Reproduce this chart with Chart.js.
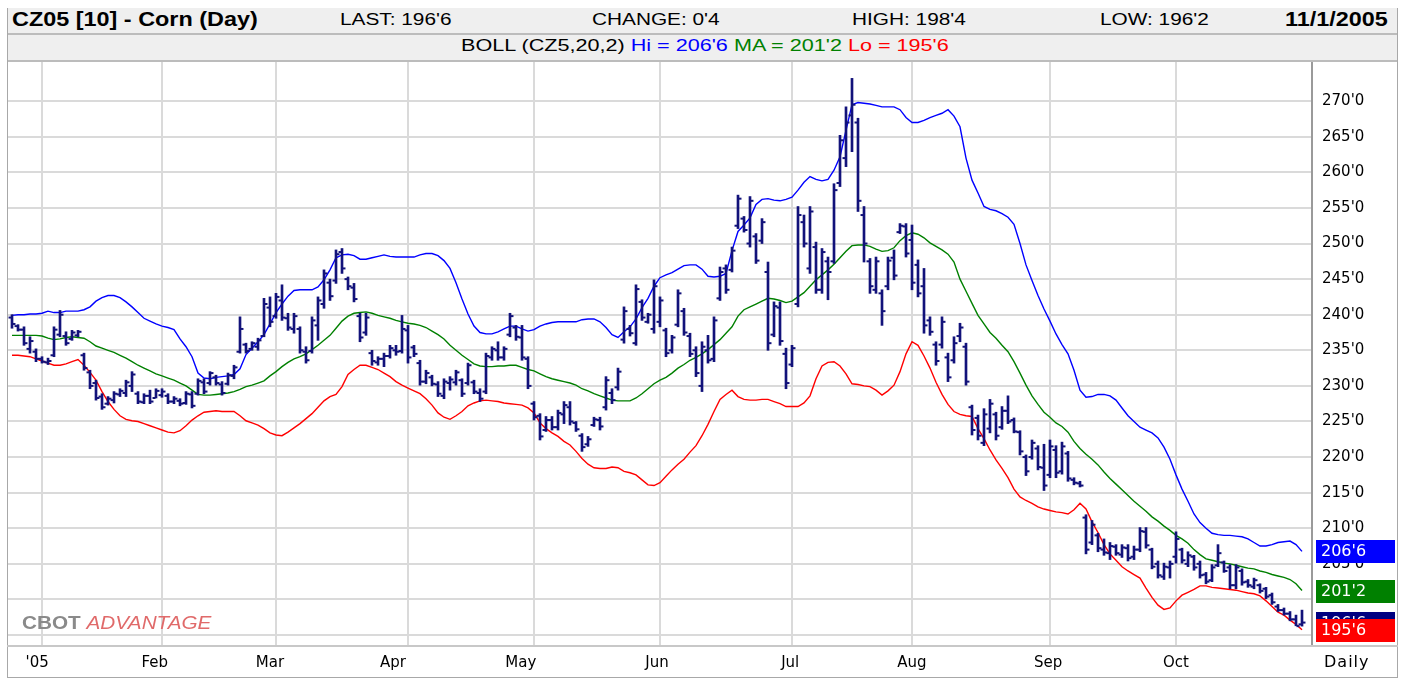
<!DOCTYPE html>
<html>
<head>
<meta charset="utf-8">
<title>CZ05 Corn (Day)</title>
<script src="https://cdn.jsdelivr.net/npm/chart.js@4.4.1/dist/chart.umd.min.js"></script>
<style>
  body { margin: 0; background: #fff; font-family: "Liberation Sans", Arial, sans-serif; }
  #wrap { position: relative; width: 1409px; height: 679px; overflow: hidden; }
  .row { position: absolute; left: 7px; width: 1391px; background: #efefef; }
  .sep { position: absolute; background: #bcbcbc; }
  .txt { position: absolute; white-space: nowrap; font-size: 16px; color: #000; transform-origin: left center; transform: scaleX(1.3); }
  .bold { font-weight: bold; font-size: 20px; transform: scaleX(1.17); }
  #chartBox { position: absolute; left: 8px; top: 62px; }
  #logo { position: absolute; left: 22px; top: 613px; font-size: 18px; white-space: nowrap; transform-origin: left center; transform: scaleX(1.15); }
  #logo .c { color: #8a8a8a; font-weight: bold; }
  #logo .a { color: #e06a6a; font-style: italic; }
  #daily { position: absolute; left: 1324px; top: 652px; font-family: "DejaVu Sans", sans-serif; font-size: 16px; letter-spacing: 1px; }
</style>
</head>
<body>
<div id="wrap">
  <div class="row" style="top:8px;height:25px;"></div>
  <div class="sep" style="left:7px;top:33px;width:1391px;height:2px;"></div>
  <div class="row" style="top:35px;height:25px;"></div>
  <div class="sep" style="left:7px;top:60px;width:1391px;height:2px;"></div>

  <div class="txt bold" style="left:12px;top:8px;">CZ05 [10] - Corn (Day)</div>
  <div class="txt" style="left:340px;top:11px;">LAST: 196'6</div>
  <div class="txt" style="left:592px;top:11px;">CHANGE: 0'4</div>
  <div class="txt" style="left:852px;top:11px;">HIGH: 198'4</div>
  <div class="txt" style="left:1100px;top:11px;">LOW: 196'2</div>
  <div class="txt bold" style="left:1285px;top:8px;">11/1/2005</div>
  <div class="txt" style="left:461px;top:37px;transform:scaleX(1.35);">BOLL (CZ5,20,2) <span style="color:#0000ff">Hi = 206'6</span> <span style="color:#008000">MA = 201'2</span> <span style="color:#ff0000">Lo = 195'6</span></div>

  <div id="chartBox"><canvas id="chart" width="1390" height="616"></canvas></div>

  <div class="sep" style="left:7px;top:8px;width:1px;height:670px;background:#a8a8a8;"></div>
  <div class="sep" style="left:1397px;top:8px;width:1px;height:670px;background:#a8a8a8;"></div>
  <div class="sep" style="left:7px;top:645px;width:1391px;height:2px;background:#c8c8c8;"></div>
  <div class="sep" style="left:7px;top:677px;width:1391px;height:1px;background:#a8a8a8;"></div>

  <div id="logo"><span class="c">CBOT</span> <span class="a">ADVANTAGE</span></div>
  <div id="daily">Daily</div>
</div>

<script>
// bar index 0 = 27 Dec 2004, one bar per trading day up to 1 Nov 2005
const monthStarts = [5, 25, 44, 66, 87, 108, 130, 150, 173, 194];
const monthLabels = ["'05", 'Feb', 'Mar', 'Apr', 'May', 'Jun', 'Jul', 'Aug', 'Sep', 'Oct'];
const monthLabelPos = [4.2, 23.8, 43, 63.5, 84.8, 107.5, 129.7, 150, 172.7, 194];
const priceTicks = [195, 200, 205, 210, 215, 220, 225, 230, 235, 240, 245, 250, 255, 260, 265, 270];

const highs = [
  240.0, 238.6, 238.3, 236.9, 235.2,
  // Jan
  234.1, 233.9, 238.3, 240.6, 237.6, 237.8, 237.8, 234.6, 232.2, 230.8, 228.9, 228.5, 229.2, 229.6, 230.8, 232.0, 229.2, 228.9, 229.4, 229.6,
  // Feb
  229.6, 228.9, 228.5, 228.2, 229.2, 229.2, 231.0, 231.0, 232.0, 231.5, 230.6, 231.8, 232.9, 239.7, 236.0, 236.2, 236.7, 242.3, 242.5,
  // Mar
  243.0, 244.2, 240.2, 240.2, 238.3, 235.5, 239.7, 242.5, 246.3, 245.0, 249.1, 249.3, 245.3, 244.4, 240.2, 240.2, 235.0, 234.1, 234.6, 235.7, 235.7, 239.9,
  // Apr
  238.5, 235.7, 233.6, 232.2, 231.5, 230.6, 231.0, 231.3, 232.2, 231.0, 233.2, 230.8, 229.6, 234.6, 235.5, 236.2, 235.5, 240.2, 238.5, 238.5, 234.1,
  // May
  227.8, 226.1, 225.7, 225.7, 226.6, 227.8, 227.8, 225.0, 223.3, 222.9, 225.6, 225.6, 231.3, 229.6, 232.5, 241.1, 238.5, 244.2, 242.1, 240.2, 244.9,
  // Jun
  242.5, 238.1, 237.1, 243.5, 240.9, 237.4, 235.5, 236.2, 237.1, 239.7, 246.7, 247.0, 249.5, 256.8, 253.8, 256.6, 251.4, 253.5, 247.4, 241.8, 241.8, 235.3,
  // Jul
  235.7, 255.2, 254.0, 255.2, 250.2, 249.3, 248.1, 258.4, 265.2, 269.2, 273.2, 267.6, 255.2, 247.9, 248.1, 243.5, 248.1, 249.1, 252.8, 252.8,
  // Aug
  252.6, 247.7, 246.5, 239.7, 236.2, 239.7, 234.6, 236.9, 238.8, 236.0, 227.3, 225.9, 226.8, 228.1, 226.3, 227.1, 228.6, 225.5, 223.7, 220.3, 222.4, 221.6, 221.8,
  // Sep
  222.4, 221.6, 222.1, 220.8, 217.1, 216.6, 211.9, 211.1, 209.3, 208.5, 208.0, 207.7, 207.7, 207.7, 207.5, 210.1, 210.1, 207.2, 205.4, 205.1, 205.4,
  // Oct
  209.5, 207.2, 206.7, 206.2, 205.4, 203.8, 204.9, 207.7, 205.4, 204.9, 204.9, 204.3, 202.8, 203.0, 202.2, 201.7, 200.9, 199.3, 198.8, 198.3, 197.8,
  // Nov 1
  198.5
];
const lows = [
  238.1, 237.7, 235.7, 234.6, 233.4,
  233.2, 233.0, 234.1, 236.9, 235.7, 236.4, 236.9, 232.2, 229.6, 228.0, 226.7, 227.3, 227.6, 228.5, 228.5, 229.2, 227.5, 227.5, 227.5, 228.3,
  228.4, 227.5, 227.5, 227.2, 227.4, 226.9, 228.7, 228.9, 230.1, 230.1, 228.7, 230.1, 231.0, 234.6, 234.6, 235.0, 235.0, 236.9, 238.3,
  239.5, 239.2, 237.8, 237.4, 234.6, 233.2, 234.6, 236.4, 240.9, 242.0, 244.4, 245.8, 243.5, 241.8, 236.2, 237.1, 232.9, 232.9, 232.7, 233.9, 234.3, 234.6,
  233.2, 234.1, 230.1, 230.3, 230.0, 228.5, 228.2, 229.4, 230.1, 228.5, 230.1, 228.9, 227.8, 228.9, 233.6, 233.6, 233.6, 236.9, 236.4, 233.6, 229.6,
  225.2, 222.4, 223.6, 223.8, 223.8, 224.7, 224.5, 223.6, 220.8, 221.5, 224.3, 223.8, 226.6, 227.5, 229.4, 236.0, 237.0, 235.7, 239.2, 238.8, 237.4,
  238.3, 234.1, 234.6, 238.3, 237.1, 234.1, 231.3, 229.2, 233.2, 233.4, 242.0, 243.0, 246.0, 252.1, 251.6, 249.5, 247.2, 250.0, 235.0, 236.9, 235.7, 229.6,
  232.7, 241.1, 249.5, 245.8, 243.0, 243.0, 242.1, 247.2, 258.0, 260.8, 262.9, 254.5, 247.4, 243.0, 243.0, 238.5, 243.5, 244.9, 251.4, 248.1,
  243.5, 242.5, 237.4, 237.1, 232.9, 235.3, 230.6, 233.2, 236.2, 230.1, 223.1, 222.4, 221.6, 223.4, 222.4, 223.9, 224.7, 223.4, 220.3, 217.4, 219.7, 218.2, 215.3,
  217.1, 217.1, 217.6, 216.6, 216.1, 215.8, 206.4, 207.7, 206.7, 206.2, 205.6, 206.2, 205.9, 205.4, 205.6, 206.7, 207.2, 204.3, 203.0, 202.8, 203.0,
  205.1, 205.1, 204.6, 204.1, 203.0, 202.2, 202.5, 204.6, 203.8, 201.5, 201.5, 202.0, 201.7, 201.5, 200.9, 200.1, 199.3, 198.3, 197.8, 197.0, 196.3,
  196.25
];
const opens = [
  239.6, 238.4, 237.9, 235.2, 234.8,
  233.8, 233.3, 234.3, 237.2, 237.0, 236.6, 237.1, 234.3, 231.9, 230.4, 228.5, 227.5, 228.0, 228.8, 229.0, 230.0, 228.9, 227.7, 228.6, 228.3,
  228.7, 228.6, 227.8, 227.9, 227.6, 228.8, 228.9, 230.5, 230.4, 231.2, 230.2, 230.3, 231.4, 234.8, 235.8, 235.2, 235.5, 237.0, 241.0,
  239.8, 242.0, 239.5, 238.0, 238.0, 234.8, 234.9, 238.5, 241.5, 244.5, 244.8, 248.8, 245.0, 243.8, 239.8, 237.5, 234.6, 233.3, 233.8, 234.2, 235.0, 234.9,
  237.8, 235.4, 233.2, 230.6, 231.2, 230.2, 228.6, 230.4, 230.5, 230.8, 230.4, 230.5, 229.0, 229.2, 234.0, 235.0, 234.0, 237.2, 238.2, 236.8, 233.8,
  227.5, 225.8, 223.8, 225.2, 224.2, 226.0, 227.0, 224.8, 223.0, 221.8, 224.5, 225.2, 227.0, 229.0, 229.8, 236.5, 238.0, 236.0, 241.8, 239.0, 238.0,
  239.0, 237.8, 235.0, 238.6, 240.5, 237.0, 235.0, 230.0, 235.0, 233.8, 242.3, 246.5, 246.3, 252.5, 253.5, 250.0, 251.0, 250.4, 246.0, 237.2, 241.0, 234.5,
  233.0, 241.5, 253.0, 246.5, 249.5, 243.5, 247.5, 247.5, 258.5, 262.0, 268.0, 267.0, 254.0, 247.5, 243.5, 243.0, 244.0, 248.0, 251.6, 252.4,
  250.5, 247.0, 244.0, 239.2, 235.8, 235.8, 234.0, 233.6, 237.0, 235.5, 227.0, 225.5, 222.0, 224.0, 226.0, 224.2, 226.5, 225.2, 223.5, 220.0, 220.0, 221.2, 218.5,
  217.5, 221.0, 218.0, 220.5, 216.8, 216.3, 211.5, 208.0, 209.0, 207.0, 206.5, 207.4, 206.3, 207.2, 206.0, 207.0, 209.5, 207.0, 205.0, 203.2, 204.5,
  206.0, 207.0, 205.0, 206.0, 205.0, 203.5, 202.7, 204.8, 205.2, 204.5, 202.0, 204.0, 202.5, 201.8, 202.0, 201.5, 200.6, 199.0, 198.5, 198.0, 197.2,
  196.5
];
const closes = [
  238.7, 237.9, 236.0, 236.3, 233.8,
  233.4, 233.5, 237.9, 240.0, 236.0, 237.5, 237.6, 232.5, 230.0, 228.3, 227.0, 228.2, 228.9, 229.3, 230.5, 231.6, 227.8, 228.6, 227.8, 229.3,
  229.2, 227.8, 228.2, 227.5, 228.9, 227.2, 230.7, 229.2, 231.8, 230.4, 229.0, 231.5, 232.6, 238.0, 234.9, 236.0, 236.4, 241.5, 239.0,
  242.5, 239.6, 238.2, 239.8, 235.0, 233.6, 239.2, 242.0, 245.8, 242.6, 248.5, 246.5, 244.0, 242.2, 236.8, 239.6, 233.5, 233.8, 234.2, 235.3, 234.8, 238.0,
  234.0, 234.5, 230.6, 231.8, 230.3, 228.9, 230.6, 230.9, 231.9, 228.9, 232.9, 229.2, 228.2, 234.2, 235.2, 234.0, 235.2, 239.8, 236.9, 234.0, 230.0,
  225.6, 222.9, 225.2, 224.2, 226.2, 227.3, 225.0, 223.9, 221.4, 222.5, 225.3, 224.3, 230.8, 228.0, 232.0, 240.5, 237.4, 243.6, 239.6, 240.0, 244.0,
  242.0, 234.6, 236.8, 243.0, 237.5, 234.5, 231.8, 235.5, 233.6, 239.2, 246.0, 243.5, 249.0, 256.3, 251.9, 256.0, 247.6, 253.0, 236.0, 241.2, 236.3, 230.4,
  235.3, 254.0, 250.0, 254.5, 243.5, 248.8, 246.0, 257.5, 264.5, 267.0, 269.5, 256.0, 250.0, 244.0, 247.5, 240.5, 247.6, 245.5, 252.5, 248.6,
  244.5, 243.0, 238.5, 237.6, 233.5, 239.0, 231.2, 236.0, 238.2, 230.6, 223.8, 223.0, 226.0, 227.5, 223.0, 226.5, 225.0, 223.6, 220.8, 218.0, 222.0, 218.6, 216.0,
  221.5, 217.8, 221.5, 217.0, 216.4, 216.0, 207.0, 210.5, 207.2, 206.6, 207.5, 206.5, 207.3, 205.8, 207.0, 209.6, 207.6, 204.6, 203.4, 204.6, 205.0,
  208.5, 205.5, 206.2, 204.5, 203.4, 202.5, 204.5, 206.5, 204.0, 202.0, 204.5, 202.4, 202.0, 202.7, 201.2, 200.4, 199.6, 198.5, 198.0, 197.2, 196.25,
  196.75
];

// Bollinger (20,2) lines
const upper = [
  239.9, 240.0, 240.0, 240.1, 240.1,
  240.2, 240.5, 240.3, 240.3, 240.5, 240.5, 240.5, 240.7, 241.1, 241.9, 242.4, 242.7, 242.7, 242.4, 241.8, 241.1, 240.3, 239.5, 239.1, 238.7,
  238.4, 238.2, 237.9, 236.6, 235.5, 234.1, 231.8, 231.1, 231.0, 231.2, 231.3, 231.4, 231.6, 232.4, 234.4, 235.3, 236.2, 237.2, 238.7,
  240.3, 241.5, 242.6, 243.4, 243.5, 243.5, 243.5, 243.9, 244.9, 246.3, 248.0, 248.4, 248.5, 248.3, 247.8, 247.8, 248.0, 248.2, 248.4, 248.2, 248.1, 248.1,
  248.1, 248.1, 248.4, 248.6, 248.6, 248.3, 247.6, 246.5, 244.5, 242.2, 240.1, 238.4, 237.5, 237.3, 237.3, 237.6, 238.0, 238.4, 238.4, 238.0, 237.7,
  237.9, 238.4, 238.7, 238.9, 239.0, 239.0, 239.0, 239.0, 239.3, 239.4, 239.4, 239.0, 238.2, 237.2, 236.8, 237.6, 238.3, 239.4, 241.0, 242.3, 244.0,
  245.2, 245.6, 245.9, 246.4, 246.9, 247.0, 247.0, 246.4, 245.4, 245.3, 245.4, 245.8, 249.0, 251.7, 252.6, 253.6, 255.5, 256.2, 256.3, 256.1, 256.0, 256.2,
  256.5, 257.5, 258.6, 259.4, 259.0, 258.8, 259.0, 260.3, 262.2, 265.9, 269.5, 269.8, 269.7, 269.6, 269.4, 269.2, 269.2, 269.2, 268.8, 267.7,
  267.0, 267.0, 267.3, 267.7, 268.0, 268.3, 268.8, 267.9, 266.4, 262.0, 258.9, 257.1, 255.2, 254.8, 254.6, 254.2, 253.7, 252.7, 250.0, 247.0, 244.8, 242.7, 240.8,
  239.1, 237.3, 235.8, 234.5, 232.2, 229.4, 228.4, 228.5, 228.8, 228.8, 228.6, 228.0, 226.9, 225.8, 225.0, 224.2, 223.8, 223.4, 222.7, 221.4, 219.7,
  217.5, 215.5, 213.8, 212.0, 210.8, 210.0, 209.3, 209.1, 209.0, 209.0, 208.9, 208.8, 208.5, 208.0, 207.5, 207.5, 207.7, 208.0, 208.1, 208.2, 207.7,
  206.75
];
const middle = [
  237.1, 237.1, 237.1, 237.1, 237.1,
  237.0, 236.7, 236.5, 236.6, 236.8, 236.9, 236.8, 236.7, 236.2, 235.6, 235.3, 235.0, 234.7, 234.3, 233.9, 233.4, 232.9, 232.5, 232.1, 231.7,
  231.4, 231.1, 230.8, 230.4, 230.0, 229.4, 228.8, 228.7, 228.7, 228.8, 228.9, 229.0, 229.2, 229.5, 229.9, 230.1, 230.4, 230.7, 231.4,
  232.0, 232.7, 233.3, 233.8, 234.1, 234.5, 235.1, 235.7, 236.4, 237.1, 238.1, 239.1, 239.8, 240.2, 240.3, 240.4, 240.2, 239.9, 239.7, 239.5, 239.2, 239.0,
  238.8, 238.7, 238.5, 238.2, 237.7, 237.2, 236.6, 235.7, 235.0, 234.3, 233.7, 233.1, 232.8, 232.7, 232.7, 232.8, 232.8, 232.9, 232.9, 232.6, 232.3,
  232.1, 231.7, 231.3, 231.0, 230.8, 230.6, 230.4, 230.1, 229.6, 229.3, 228.9, 228.6, 228.3, 228.0, 227.9, 227.9, 227.9, 228.3, 228.9, 229.6, 230.3,
  230.8, 231.2, 231.8, 232.5, 233.0, 233.6, 234.0, 234.5, 235.1, 235.8, 236.5, 237.4, 238.3, 239.8, 240.7, 241.1, 241.5, 241.9, 242.3, 242.2, 242.0, 241.7,
  241.9, 242.5, 243.1, 244.0, 244.9, 245.6, 246.3, 247.1, 248.0, 248.9, 249.7, 249.8, 249.8, 249.6, 249.2, 248.9, 249.0, 249.4, 250.4, 251.1,
  251.5, 251.3, 250.8, 250.1, 249.6, 249.1, 248.5, 247.4, 245.0, 243.3, 241.6, 239.9, 238.7, 237.5, 236.7, 235.7, 234.8, 233.4, 231.8, 230.1, 228.6, 227.4, 226.3,
  225.6, 224.8, 224.3, 223.5, 222.2, 221.2, 220.4, 219.7, 218.9, 217.9, 217.0, 216.2, 215.4, 214.6, 213.8, 213.1, 212.4, 211.6, 211.0, 210.3, 209.7,
  209.0, 208.5, 207.9, 207.0, 206.3, 205.7, 205.5, 205.3, 205.1, 205.0, 204.8, 204.6, 204.4, 204.3, 204.0, 203.8, 203.5, 203.3, 203.1, 202.8, 202.2,
  201.25
];
const lower = [
  234.3, 234.3, 234.2, 234.1, 233.8,
  233.5, 233.2, 232.9, 232.9, 233.1, 233.4, 233.7, 232.9, 231.9, 230.8, 229.2, 227.8, 226.7, 225.8, 225.3, 225.1, 225.0, 224.7, 224.4, 224.1,
  223.8, 223.5, 223.4, 223.7, 224.4, 225.2, 225.8, 226.3, 226.4, 226.5, 226.4, 226.4, 226.4, 225.8, 225.1, 224.8, 224.5, 224.0, 223.4,
  223.1, 223.0, 223.5, 224.1, 224.7, 225.4, 226.1, 227.0, 227.9, 228.5, 228.8, 229.9, 231.6, 232.3, 232.9, 232.9, 232.6, 232.3, 231.8, 231.3, 230.6, 230.1,
  229.7, 229.3, 228.9, 228.2, 227.3, 226.2, 225.6, 225.3, 225.8, 226.4, 227.2, 227.6, 227.9, 228.0, 227.9, 227.8, 227.6, 227.5, 227.4, 227.3, 226.9,
  226.2, 224.8, 224.0, 223.4, 222.9, 222.2, 221.7, 220.8, 219.8, 219.0, 218.5, 218.4, 218.4, 218.6, 218.5, 218.0, 217.8, 217.5, 216.8, 216.1, 216.0,
  216.4, 217.3, 218.2, 219.0, 219.7, 220.7, 221.6, 223.0, 224.6, 226.4, 228.1, 228.8, 229.4, 228.5, 228.1, 228.0, 228.0, 228.1, 228.1, 227.8, 227.5, 227.1,
  227.1, 227.1, 227.6, 228.6, 231.0, 232.8, 233.3, 233.4, 232.8, 231.7, 230.3, 230.2, 230.0, 229.9, 229.4, 228.7, 229.3, 230.1, 232.0, 234.5,
  236.2, 235.7, 234.2, 232.5, 230.5, 228.8, 227.4, 226.4, 226.0, 225.8, 225.7, 224.0, 222.6, 221.0, 219.6, 218.4, 217.1, 215.5, 214.4, 213.9, 213.5, 213.0, 212.7,
  212.5, 212.3, 212.2, 212.0, 212.6, 213.5, 212.7, 210.9, 209.4, 207.7, 206.4, 205.5, 204.6, 204.0, 203.5, 203.0, 201.6, 200.3, 199.2, 198.6, 198.8,
  199.8, 200.6, 201.0, 201.4, 201.9, 201.9, 201.7, 201.6, 201.5, 201.4, 201.3, 201.1, 200.9, 200.8, 200.5, 199.8, 199.0, 198.2, 197.8, 197.1, 196.5,
  195.75
];

const NAVY = '#12127a';
const GRID = '#dadada';
const TICK_FONT = { family: '"DejaVu Sans", sans-serif', size: 15 };

function eighths(v) {
    const whole = Math.floor(v);
    return whole + "'" + Math.round((v - whole) * 8);
}

function pts(values, shift) {
    return values.map((v, i) => ({ x: i + shift, y: v }));
}

// keep the plot area flush with the canvas edges
function noPadding(axis) {
    axis.paddingTop = 0;
    axis.paddingBottom = 0;
    axis.paddingLeft = 0;
    axis.paddingRight = 0;
}

// last-value boxes on the price axis
const valueBoxes = {
    id: 'valueBoxes',
    afterDraw(chart) {
        const { ctx, chartArea, scales } = chart;
        const n = closes.length - 1;
        const boxes = [
            [closes[n], '#000080'],
            [upper[n], '#0000ff'],
            [middle[n], '#008000'],
            [lower[n], '#ff0000']
        ];
        ctx.save();
        ctx.font = '16px "DejaVu Sans", sans-serif';
        ctx.textBaseline = 'middle';
        boxes.forEach(([v, color]) => {
            const py = Math.round(scales.y.getPixelForValue(v));
            ctx.fillStyle = color;
            ctx.fillRect(chartArea.right + 4, py - 11, 79, 23);
            ctx.fillStyle = '#ffffff';
            ctx.fillText(eighths(v), chartArea.right + 9, py + 1);
        });
        ctx.restore();
    }
};

const lineSet = (label, data, color) => ({
    type: 'line',
    label: label,
    data: pts(data, 0),
    borderColor: color,
    borderWidth: 1.4,
    pointRadius: 0,
    tension: 0,
    order: 3
});

new Chart(document.getElementById('chart'), {
    type: 'bar',
    data: {
        datasets: [
            lineSet('Hi', upper, '#0000ff'),
            lineSet('MA', middle, '#008000'),
            lineSet('Lo', lower, '#ff0000'),
            {
                label: 'High-Low',
                data: highs.map((h, i) => ({ x: i, y: [lows[i], h] })),
                backgroundColor: NAVY,
                barThickness: 2,
                order: 2
            },
            {
                type: 'scatter',
                label: 'Open',
                data: pts(opens, -0.33),
                pointStyle: 'line',
                pointRadius: 1.5,
                borderColor: NAVY,
                borderWidth: 2,
                order: 1
            },
            {
                type: 'scatter',
                label: 'Close',
                data: pts(closes, 0.33),
                pointStyle: 'line',
                pointRadius: 1.5,
                borderColor: NAVY,
                borderWidth: 2,
                order: 1
            }
        ]
    },
    options: {
        responsive: false,
        animation: false,
        layout: { padding: 0, autoPadding: false },
        plugins: {
            legend: { display: false },
            tooltip: { enabled: false }
        },
        scales: {
            x: {
                type: 'linear',
                offset: false,
                min: -0.667,
                max: 216.667,
                position: 'bottom',
                afterBuildTicks: (axis) => { axis.ticks = monthStarts.map(v => ({ value: v })); },
                afterFit: (axis) => { axis.height = 0; noPadding(axis); },
                ticks: { display: false },
                grid: { offset: false, color: GRID, lineWidth: 2, drawTicks: false },
                border: { display: false }
            },
            xLabels: {
                type: 'linear',
                offset: false,
                min: -0.667,
                max: 216.667,
                position: 'bottom',
                afterBuildTicks: (axis) => { axis.ticks = monthLabelPos.map(v => ({ value: v })); },
                afterFit: (axis) => { axis.height = 33; noPadding(axis); },
                ticks: {
                    autoSkip: false,
                    maxRotation: 0,
                    padding: 9,
                    color: '#000',
                    font: TICK_FONT,
                    callback: (value, index) => monthLabels[index]
                },
                grid: { display: false, drawTicks: false },
                border: { display: false }
            },
            y: {
                position: 'right',
                min: 193.6,
                max: 275.5,
                afterBuildTicks: (axis) => { axis.ticks = priceTicks.map(v => ({ value: v })); },
                afterFit: (axis) => { axis.width = 86; noPadding(axis); },
                ticks: {
                    crossAlign: 'near',
                    padding: 10,
                    color: '#000',
                    font: TICK_FONT,
                    callback: (value) => value + "'0"
                },
                grid: { color: GRID, lineWidth: 2, drawTicks: false },
                border: { display: true, color: '#9a9a9a', width: 2 }
            }
        }
    },
    plugins: [valueBoxes]
});
</script>
</body>
</html>
